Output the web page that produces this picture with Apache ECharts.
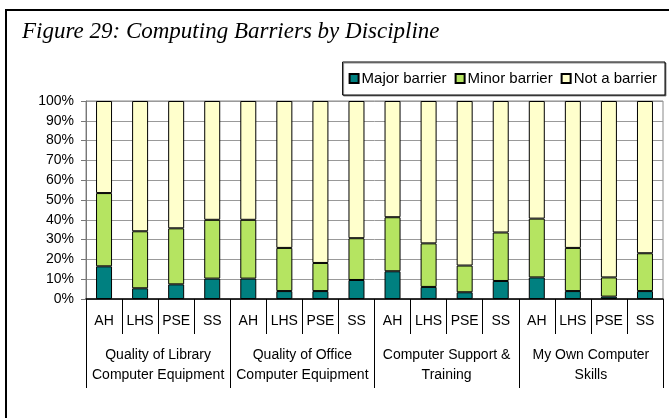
<!DOCTYPE html>
<html>
<head>
<meta charset="utf-8">
<script src="https://cdn.jsdelivr.net/npm/echarts@6/dist/echarts.min.js"></script>
<style>
  html, body { margin: 0; padding: 0; background: #fff; }
  #chart { width: 669px; height: 418px; }
</style>
</head>
<body>
<div id="chart"></div>
<script>
// chart data
const groups = [
  'Quality of Library\nComputer Equipment',
  'Quality of Office\nComputer Equipment',
  'Computer Support &\nTraining',
  'My Own Computer\nSkills'
]
const disciplines = ['AH', 'LHS', 'PSE', 'SS']
const majorBarrier = [16.5, 5.4, 7.4, 10.3, 10.3, 4.0, 4.0, 9.6, 14.0, 6.1, 3.4, 9.1, 10.9, 4.0, 1.2, 4.0]
const minorBarrier = [37.0, 28.8, 28.3, 29.7, 29.7, 21.8, 14.2, 21.1, 27.3, 22.0, 13.5, 24.5, 29.7, 21.8, 9.7, 19.1]
const notBarrier = [46.5, 65.8, 64.3, 60.0, 60.0, 74.2, 81.8, 69.3, 58.7, 71.9, 83.1, 66.4, 59.4, 74.2, 89.1, 76.9]
const yTicks = [0, 10, 20, 30, 40, 50, 60, 70, 80, 90, 100]

// one category per bar, group index kept so duplicates stay apart
const cats = []
groups.forEach((g, gi) => {
  disciplines.forEach(d => cats.push(gi + '|' + d))
})

const font = 'Liberation Sans, Arial, sans-serif'
const chart = echarts.init(document.getElementById('chart'))

function barSeries(name, data, color) {
  return {
    name: name,
    type: 'bar',
    stack: 'total',
    xAxisIndex: 0,
    barWidth: 16,
    data: data,
    itemStyle: {
      color: color,
      borderColor: '#000',
      borderWidth: 1
    }
  }
}

chart.setOption({
  animation: false,
  title: {
    text: 'Figure 29: Computing Barriers by Discipline',
    left: 17,
    top: 15,
    textStyle: {
      fontFamily: 'Liberation Serif, serif',
      fontStyle: 'italic',
      fontWeight: 'normal',
      fontSize: 23,
      color: '#000'
    }
  },
  legend: {
    right: 4,
    top: 62,
    itemWidth: 9,
    itemHeight: 9,
    itemGap: 8,
    padding: [9, 8, 9, 6],
    borderColor: '#000',
    borderWidth: 1,
    shadowColor: 'rgba(0,0,0,0.45)',
    shadowOffsetX: 1,
    shadowOffsetY: 1,
    backgroundColor: '#fff',
    icon: 'rect',
    textStyle: { fontFamily: font, fontSize: 15, color: '#000', padding: [0, 0, 0, -2] },
    data: ['Major barrier', 'Minor barrier', 'Not a barrier']
  },
  grid: {
    left: 86,
    right: 6,
    top: 101,
    bottom: 119,
    show: true,
    borderColor: '#888',
    borderWidth: 1
  },
  xAxis: [{
    type: 'category',
    data: cats,
    axisLine: { lineStyle: { color: '#000', width: 1.5 } },
    axisTick: { show: true, interval: 0, length: 35, lineStyle: { color: '#000' } },
    axisLabel: {
      interval: 0,
      margin: 15,
      fontFamily: font,
      fontSize: 14,
      color: '#000',
      formatter: v => v.split('|')[1]
    }
  }, {
    type: 'category',
    position: 'bottom',
    data: groups,
    axisLine: { show: false },
    axisTick: { show: true, interval: 0, length: 89, lineStyle: { color: '#000' } },
    axisLabel: {
      interval: 0,
      margin: 46,
      fontFamily: font,
      fontSize: 14,
      lineHeight: 20,
      color: '#000'
    }
  }],
  yAxis: {
    type: 'value',
    min: 0,
    max: 100,
    interval: 10,
    axisLine: { show: true, lineStyle: { color: '#777' } },
    axisTick: { show: true, length: 5, lineStyle: { color: '#777' } },
    splitLine: { lineStyle: { color: '#999' } },
    axisLabel: {
      margin: 12,
      fontFamily: font,
      fontSize: 14,
      color: '#000',
      formatter: v => yTicks.includes(v) ? v + '%' : ''
    }
  },
  graphic: [
    { type: 'line', shape: { x1: 6, y1: 10, x2: 6, y2: 418 }, style: { stroke: '#000', lineWidth: 2 } },
    { type: 'line', shape: { x1: 5, y1: 10, x2: 669, y2: 10 }, style: { stroke: '#000', lineWidth: 2 } }
  ],
  series: [
    barSeries('Major barrier', majorBarrier, '#008080'),
    barSeries('Minor barrier', minorBarrier, '#B5E461'),
    barSeries('Not a barrier', notBarrier, '#FFFFCC')
  ]
})
</script>
</body>
</html>
